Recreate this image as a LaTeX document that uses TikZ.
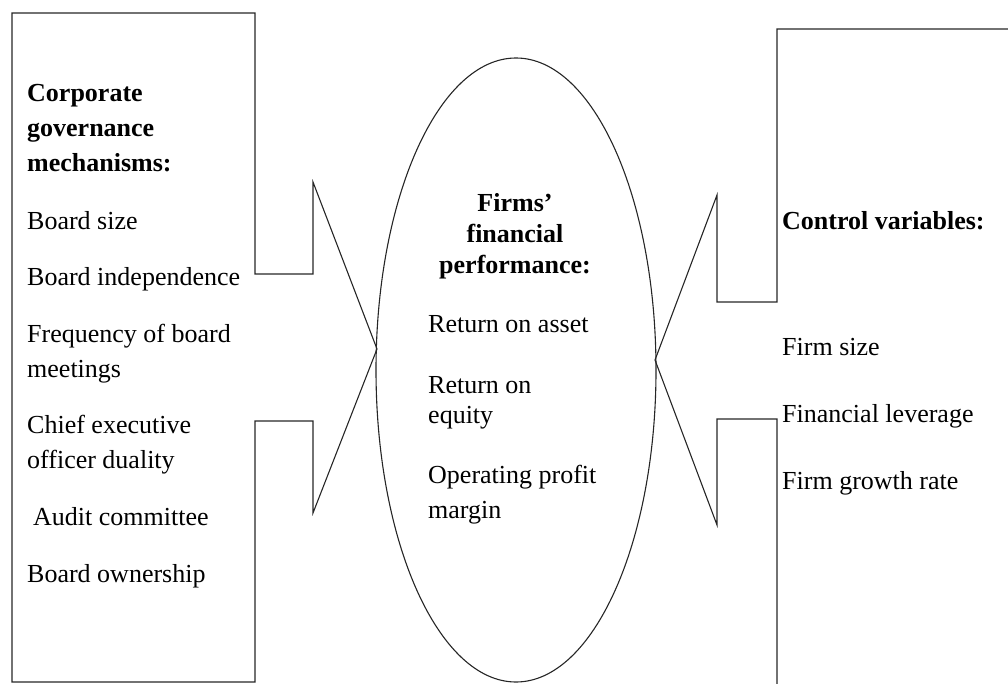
\documentclass[tikz,border=0pt]{standalone}
\usepackage{fontspec}
\setmainfont{Liberation Serif}
\usetikzlibrary{shapes.geometric}
\tikzset{font=\fontsize{26}{35}\selectfont}
\tikzstyle{lbl}=[inner sep=0pt, anchor=base west, align=left]
\tikzstyle{head}=[lbl, font=\fontsize{26}{35}\selectfont\bfseries]
\tikzstyle{frame}=[draw=black!85, line width=1.1pt, line join=miter]

\begin{document}
\begin{tikzpicture}[x=1pt, y=-1pt]
	\useasboundingbox (0,0) rectangle (1008,684);
	\clip (0,0) rectangle (1008,684);
	% middle
	\node [frame, ellipse, inner sep=0pt, minimum width=280pt, minimum height=624pt] (perf) at (516, 370) {};
	\node [head, anchor=base, align=center, font=\fontsize{26}{30.5}\selectfont\bfseries] (perfhead) at (515, 273) {Firms'\\financial\\performance:};
	\node [lbl] (roa) at (428, 332) {Return on asset};
	\node [lbl, font=\fontsize{26}{30}\selectfont] (roe) at (428, 423) {Return on\\equity};
	\node [lbl] (opm) at (428, 518) {Operating profit\\margin};
	% left
	\coordinate (ltip) at (377, 349);
	\draw [frame] (255, 274) -- (255, 13) -- (12, 13) -- (12, 682) -- (255, 682)
		-- (255, 421) -- (313, 421) -- (313, 513) -- (ltip) -- (313, 182) -- (313, 274) -- cycle;
	\node [head] (cghead) at (27, 172) {Corporate\\governance\\mechanisms:};
	\node [lbl] (bsize) at (27, 230) {Board size};
	\node [lbl] (bind) at (27, 286) {Board independence};
	\node [lbl] (bmeet) at (27, 377) {Frequency of board\\meetings};
	\node [lbl] (ceo) at (27, 468) {Chief executive\\officer duality};
	\node [lbl] (audit) at (33, 525) {Audit committee};
	\node [lbl] (bown) at (27, 582) {Board ownership};
	% right
	\coordinate (rtip) at (655, 360);
	\draw [frame] (1020, 29) -- (777, 29) -- (777, 302) -- (717, 302) -- (717, 195) -- (rtip)
		-- (717, 525) -- (717, 419) -- (777, 419) -- (777, 700);
	\node [head] (cvhead) at (782, 230) {Control variables:};
	\node [lbl] (fsize) at (782, 355) {Firm size};
	\node [lbl] (flev) at (782, 422) {Financial leverage};
	\node [lbl] (fgrow) at (782, 489) {Firm growth rate};
\end{tikzpicture}
\end{document}
